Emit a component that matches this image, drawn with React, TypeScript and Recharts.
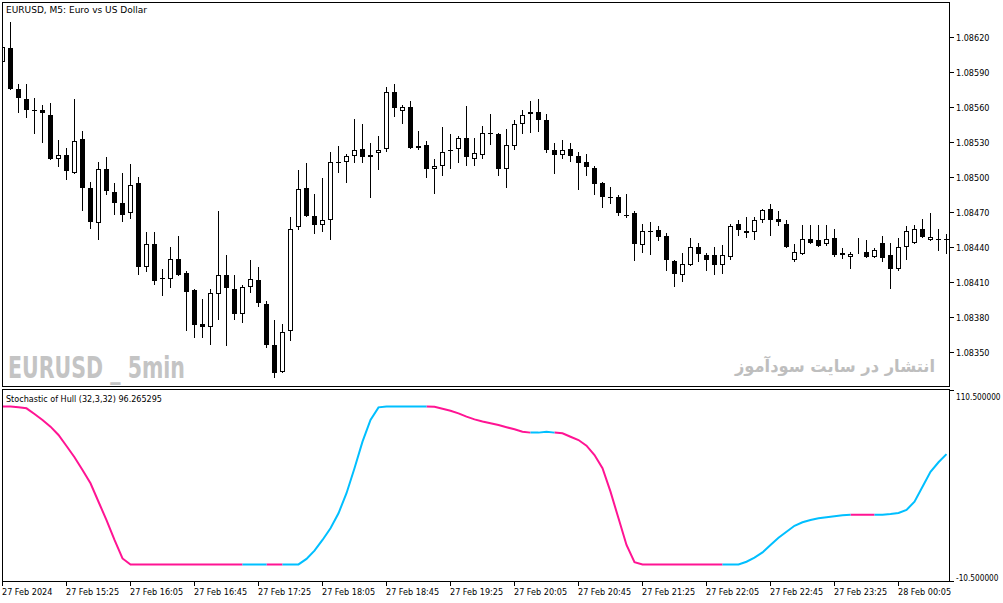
import React from 'react'
import { ComposedChart, Bar, Line, XAxis, YAxis } from 'recharts'

// EURUSD M5 candles, 27 Feb 2024 14:45 onwards (one entry per bar)
const opens = [
  1.08599, 1.08611, 1.08576, 1.08567, 1.08558, 1.08558, 1.08553, 1.08516, 1.08519, 1.08504,
  1.08533, 1.08491, 1.08461, 1.08507, 1.08487, 1.08478, 1.08469, 1.08495, 1.08423, 1.08443,
  1.08414, 1.08413, 1.0843, 1.08418, 1.08403, 1.08374, 1.08372, 1.084, 1.08416, 1.08404,
  1.08383, 1.08406, 1.08412, 1.08391, 1.08356, 1.08333, 1.08368, 1.08457, 1.08491, 1.08467,
  1.08459, 1.08463, 1.08513, 1.08513, 1.08518, 1.08524, 1.08517, 1.08521, 1.08524, 1.08573,
  1.08557, 1.0856, 1.08525, 1.08528, 1.08507, 1.0851, 1.08523, 1.08524, 1.08534, 1.08516,
  1.08519, 1.08538, 1.08537, 1.08507, 1.08527, 1.08546, 1.08554, 1.08556, 1.08549, 1.08523,
  1.08519, 1.08524, 1.08518, 1.08513, 1.08508, 1.08495, 1.08483, 1.08483, 1.08468, 1.08469,
  1.08442, 1.08454, 1.08455, 1.0845, 1.08428, 1.08416, 1.08425, 1.0844, 1.08433, 1.08433,
  1.08425, 1.08432, 1.0846, 1.08454, 1.08453, 1.08463, 1.08473, 1.08464, 1.0846, 1.08429,
  1.08434, 1.08447, 1.08446, 1.08443, 1.08448, 1.08435, 1.08432, 1.08435, 1.08436, 1.08432,
  1.08444, 1.08433, 1.08421, 1.0844, 1.08444, 1.08456, 1.08446, 1.08447, 1.08447,
]
const highs = [
  1.08614, 1.08633, 1.0858, 1.0858, 1.08568, 1.08562, 1.08564, 1.08532, 1.08525, 1.08567,
  1.0854, 1.08496, 1.08513, 1.08517, 1.08495, 1.08504, 1.08511, 1.085, 1.08453, 1.08453,
  1.08421, 1.0844, 1.0845, 1.0842, 1.08404, 1.08396, 1.08404, 1.08471, 1.08433, 1.08416,
  1.08408, 1.08429, 1.08423, 1.08394, 1.08378, 1.08374, 1.08466, 1.08506, 1.08512, 1.08486,
  1.08499, 1.08522, 1.08527, 1.0852, 1.0855, 1.08546, 1.08529, 1.08535, 1.08577, 1.0858,
  1.08562, 1.08565, 1.0854, 1.08531, 1.08516, 1.08543, 1.08537, 1.08535, 1.08561, 1.08534,
  1.08544, 1.08554, 1.08538, 1.08541, 1.08549, 1.08558, 1.08565, 1.08567, 1.08554, 1.08529,
  1.08532, 1.08529, 1.08522, 1.0852, 1.0851, 1.08496, 1.08492, 1.08485, 1.08486, 1.08471,
  1.0846, 1.08462, 1.08458, 1.08452, 1.08429, 1.08435, 1.08448, 1.08444, 1.08435, 1.0844,
  1.08442, 1.0846, 1.08463, 1.08466, 1.08466, 1.08473, 1.08477, 1.08471, 1.08463, 1.08443,
  1.08459, 1.08459, 1.08459, 1.08459, 1.08456, 1.08439, 1.08436, 1.08448, 1.08446, 1.08439,
  1.0845, 1.08444, 1.08448, 1.08458, 1.08459, 1.08464, 1.08469, 1.08456, 1.08451,
]
const lows = [
  1.08597, 1.08575, 1.08555, 1.08551, 1.08537, 1.08529, 1.08515, 1.08509, 1.08498, 1.08503,
  1.08471, 1.08456, 1.08446, 1.08485, 1.08468, 1.08462, 1.08464, 1.08416, 1.08419, 1.08408,
  1.08398, 1.08405, 1.08415, 1.08368, 1.08362, 1.08362, 1.08356, 1.08378, 1.08355, 1.08378,
  1.08375, 1.08401, 1.08389, 1.08354, 1.08328, 1.08332, 1.0836, 1.08455, 1.08466, 1.08451,
  1.08453, 1.08446, 1.08504, 1.08495, 1.08512, 1.08512, 1.08482, 1.08506, 1.08522, 1.08552,
  1.08546, 1.08524, 1.08523, 1.08499, 1.08486, 1.08501, 1.08507, 1.08512, 1.0851, 1.0851,
  1.08516, 1.08528, 1.08501, 1.08491, 1.08523, 1.08537, 1.08538, 1.08539, 1.08521, 1.08503,
  1.08516, 1.08513, 1.08489, 1.08501, 1.08485, 1.08474, 1.08477, 1.08467, 1.08465, 1.08428,
  1.08435, 1.08433, 1.08445, 1.0842, 1.08406, 1.0841, 1.08424, 1.08427, 1.0842, 1.08416,
  1.08417, 1.08429, 1.0845, 1.08448, 1.08446, 1.08461, 1.0845, 1.08458, 1.08439, 1.08427,
  1.08433, 1.08443, 1.0844, 1.08441, 1.08432, 1.0843, 1.08421, 1.08434, 1.08431, 1.08431,
  1.08427, 1.08404, 1.0842, 1.08429, 1.08443, 1.08448, 1.08445, 1.08437, 1.08434,
]
const closes = [
  1.08612, 1.08576, 1.08568, 1.08558, 1.08558, 1.08555, 1.08516, 1.08519, 1.08505, 1.08531,
  1.08491, 1.08462, 1.08507, 1.08488, 1.08478, 1.08468, 1.08493, 1.08423, 1.08443, 1.08411,
  1.08414, 1.0843, 1.08416, 1.08402, 1.08373, 1.08372, 1.08401, 1.08416, 1.08405, 1.08383,
  1.08406, 1.08413, 1.08392, 1.08356, 1.08332, 1.08367, 1.08456, 1.0849, 1.08467, 1.08459,
  1.08463, 1.08513, 1.08513, 1.08518, 1.08523, 1.08517, 1.08519, 1.08523, 1.08573, 1.08559,
  1.0856, 1.08525, 1.08527, 1.08507, 1.0851, 1.08522, 1.08523, 1.08534, 1.08517, 1.08521,
  1.08538, 1.08538, 1.08507, 1.08528, 1.08546, 1.08553, 1.08556, 1.08549, 1.08523, 1.08519,
  1.08523, 1.08518, 1.08512, 1.08509, 1.08494, 1.08483, 1.08483, 1.08469, 1.08468, 1.08443,
  1.08454, 1.08454, 1.08449, 1.08429, 1.08417, 1.08426, 1.0844, 1.08434, 1.08429, 1.08425,
  1.08433, 1.08458, 1.08455, 1.08452, 1.08463, 1.08472, 1.08463, 1.08462, 1.0844, 1.08436,
  1.08447, 1.08444, 1.08441, 1.08447, 1.08433, 1.08433, 1.08434, 1.08436, 1.08432, 1.08438,
  1.08431, 1.08421, 1.0844, 1.08454, 1.08456, 1.08449, 1.08449, 1.08446, 1.08447,
]

// Stochastic of Hull (32,3,32) value per bar
const stoch = [
  100, 100, 99.5, 98.9, 95.3, 91.5, 87.3, 82, 75, 67.9,
  59.8, 51.4, 39.7, 28.1, 15.5, 3.8, 0, 0, 0, 0,
  0, 0, 0, 0, 0, 0, 0, 0, 0, 0,
  0, 0, 0, 0, 0, 0, 0, 0, 3.5, 8.7,
  15.5, 22.9, 32.4, 45.1, 60.9, 77.8, 91.5, 99.5, 100, 100,
  100, 100, 100, 100, 99.9, 98.6, 97.4, 95.7, 93.6, 91.9,
  90.5, 89.4, 88.3, 86.9, 85.6, 84.1, 83.5, 83.5, 84.1, 83.5,
  83.1, 80.9, 78.8, 75.2, 69.3, 60.9, 46.1, 29.2, 12.3, 1.4,
  0, 0, 0, 0, 0, 0, 0, 0, 0, 0,
  0, 0, 0, 1.7, 4.3, 7.6, 12.3, 16.9, 20.7, 24.5,
  26.7, 28.1, 29.2, 29.9, 30.5, 31.1, 31.5, 31.5, 31.5, 31.5,
  31.5, 31.9, 32.6, 34.5, 39.7, 49.2, 58.7, 64.7, 69.9,
]
// colour state per bar: d = falling (pink), u = rising (blue)
const trend = (
  'ddddddddddddddddddddddddddddddd' + 'uuu' + 'dd' + 'uuuuuuuuuuuuuuuuuu' +
  'ddddddddddddd' + 'uuu' + 'ddddddddddddddddddddd' + 'uuuuuuuuuuuuuuuu' + 'ddd' + 'uuuuuuuuu'
).split('')

const timeTicks = [0, 8, 16, 24, 32, 40, 48, 56, 64, 72, 80, 88, 96, 104, 112]
const timeLabels = [
  '27 Feb 2024', '27 Feb 15:25', '27 Feb 16:05', '27 Feb 16:45', '27 Feb 17:25',
  '27 Feb 18:05', '27 Feb 18:45', '27 Feb 19:25', '27 Feb 20:05', '27 Feb 20:45',
  '27 Feb 21:25', '27 Feb 22:05', '27 Feb 22:45', '27 Feb 23:25', '28 Feb 00:05',
]
const priceTicks = [1.0835, 1.0838, 1.0841, 1.0844, 1.0847, 1.085, 1.0853, 1.0856, 1.0859, 1.0862]
const stochTicks = [-10.5, 110.5]

const bars = opens.map((o, i) => {
  const down = trend[i] === 'd' || trend[i + 1] === 'd'
  const up = trend[i] === 'u' || trend[i + 1] === 'u'
  return {
    i,
    open: o,
    high: highs[i],
    low: lows[i],
    close: closes[i],
    range: [lows[i], highs[i]],
    down: down ? stoch[i] : null,
    up: up ? stoch[i] : null,
  }
})

const X_DOMAIN = [-0.0625, 118.4375]
const FONT = "'DejaVu Sans Condensed', 'DejaVu Sans', sans-serif"

function Candle(props: any) {
  const { x, width, payload } = props
  let { y, height } = props
  if (!payload || y == null || height == null) return null
  if (height < 0) {
    y += height
    height = -height
  }
  const { open, close, high, low } = payload
  const cx = Math.floor(x + width / 2) + 0.5
  const py = (v: number) => y + ((high - v) / (high - low)) * height
  const top = Math.round(py(Math.max(open, close)))
  const bot = Math.round(py(Math.min(open, close)))
  const bull = close > open
  return (
    <g>
      <line x1={cx} x2={cx} y1={Math.round(y)} y2={Math.round(y + height)} stroke="#000" strokeWidth={1} />
      {bot - top < 1 ? (
        <line x1={cx - 2.5} x2={cx + 2.5} y1={top + 0.5} y2={top + 0.5} stroke="#000" strokeWidth={1} />
      ) : bull ? (
        <rect x={cx - 2} y={top + 0.5} width={4} height={Math.max(bot - top - 1, 0)} fill="#fff" stroke="#000" strokeWidth={1} />
      ) : (
        <rect x={cx - 2.5} y={top} width={5} height={bot - top} fill="#000" />
      )}
    </g>
  )
}

function PriceTick({ x, y, payload }: any) {
  const ty = Math.round(y) + 0.5
  return (
    <g>
      <line x1={x} x2={x + 4} y1={ty} y2={ty} stroke="#000" />
      <text x={x + 6} y={ty + 3.5} fontSize={9} fontFamily={FONT} fill="#000">
        {payload.value.toFixed(5)}
      </text>
    </g>
  )
}

function StochTick({ x, y, payload }: any) {
  const ty = Math.round(y) + 0.5
  const top = payload.value > 50
  return (
    <g>
      <line x1={x} x2={x + 4} y1={ty} y2={ty} stroke="#000" />
      <text x={x + 6} y={top ? ty + 9 : ty - 1} fontSize={8.2} fontFamily={FONT} fill="#000">
        {payload.value.toFixed(6)}
      </text>
    </g>
  )
}

function TimeTick({ x, y, payload }: any) {
  const tx = Math.floor(x) + 0.5
  const label = timeLabels[timeTicks.indexOf(payload.value)]
  return (
    <g>
      <line x1={tx} x2={tx} y1={y + 1} y2={y + 5} stroke="#000" />
      <text x={tx - 0.5} y={y + 14} fontSize={9} fontFamily={FONT} fill="#000">
        {label}
      </text>
    </g>
  )
}

export default function App() {
  return (
    <div style={{ position: 'absolute', left: 0, top: 0, width: 1003, height: 603, background: '#fff', overflow: 'hidden' }}>
      <div style={{ position: 'absolute', left: 0, top: 0 }}>
        <ComposedChart width={1003} height={389} data={bars} margin={{ top: 2, right: 0, bottom: 3, left: 2 }}>
          <XAxis type="number" dataKey="i" domain={X_DOMAIN} hide allowDataOverflow />
          <YAxis
            orientation="right"
            width={53}
            domain={[1.083211, 1.086502]}
            ticks={priceTicks}
            interval={0}
            allowDataOverflow
            axisLine={false}
            tickLine={false}
            tickSize={0}
            tickMargin={0}
            tick={<PriceTick />}
          />
          <Bar dataKey="range" barSize={5} shape={<Candle />} isAnimationActive={false} />
        </ComposedChart>
      </div>
      <div style={{ position: 'absolute', left: 0, top: 389 }}>
        <ComposedChart width={1003} height={214} data={bars} margin={{ top: 1, right: 0, bottom: 0, left: 2 }}>
          <XAxis
            type="number"
            dataKey="i"
            domain={X_DOMAIN}
            ticks={timeTicks}
            interval={0}
            allowDataOverflow
            height={22}
            axisLine={false}
            tickLine={false}
            tickSize={0}
            tickMargin={0}
            tick={<TimeTick />}
          />
          <YAxis
            orientation="right"
            width={53}
            domain={[-10.5, 110.5]}
            ticks={stochTicks}
            interval={0}
            allowDataOverflow
            axisLine={false}
            tickLine={false}
            tickSize={0}
            tickMargin={0}
            tick={<StochTick />}
          />
          <Line dataKey="down" stroke="#FF1493" strokeWidth={2} dot={false} activeDot={false} isAnimationActive={false} />
          <Line dataKey="up" stroke="#00BFFF" strokeWidth={2} dot={false} activeDot={false} isAnimationActive={false} />
        </ComposedChart>
      </div>
      <div style={{ position: 'absolute', left: 2, top: 2, width: 948, height: 385, border: '1px solid #000', boxSizing: 'border-box', pointerEvents: 'none' }} />
      <div style={{ position: 'absolute', left: 2, top: 389, width: 948, height: 193, border: '1px solid #000', boxSizing: 'border-box', pointerEvents: 'none' }} />
      <svg width={1003} height={603} style={{ position: 'absolute', left: 0, top: 0, pointerEvents: 'none' }}>
        <text x={6} y={13} fontSize={9} fontFamily={FONT} fill="#000" textLength={141} lengthAdjust="spacingAndGlyphs">
          EURUSD, M5:  Euro vs US Dollar
        </text>
        <text x={6} y={402} fontSize={9} fontFamily={FONT} fill="#000" textLength={156} lengthAdjust="spacingAndGlyphs">
          Stochastic of Hull (32,3,32) 96.265295
        </text>
        <text x={8} y={378} fontSize={30} fontWeight="bold" fontFamily="'Liberation Sans Narrow', 'DejaVu Sans Condensed', sans-serif" fill="#C4C4C4" textLength={177} lengthAdjust="spacingAndGlyphs">
          EURUSD _ 5min
        </text>
        <text x={735} y={372} fontSize={17} fontWeight="bold" fontFamily="'DejaVu Sans', sans-serif" fill="#BEBEBE" textLength={200} lengthAdjust="spacingAndGlyphs">
          انتشار در سایت سودآموز
        </text>
      </svg>
    </div>
  )
}
